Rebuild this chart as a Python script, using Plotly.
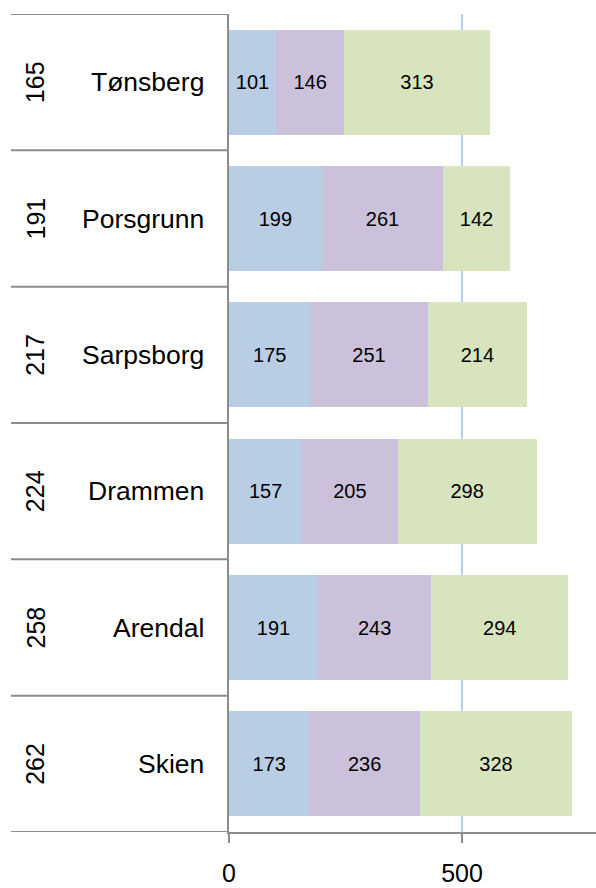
import plotly.graph_objects as go

cities = ["Tønsberg", "Porsgrunn", "Sarpsborg", "Drammen", "Arendal", "Skien"]
codes = ["165", "191", "217", "224", "258", "262"]
seg1 = [101, 199, 175, 157, 191, 173]
seg2 = [146, 261, 251, 205, 243, 236]
seg3 = [313, 142, 214, 298, 294, 328]
colors = ["#b9cde5", "#ccc1da", "#d7e4bd"]
tick_vals = [0, 500]
tick_text = ["0", "500"]

W, H = 596, 888
x0_px = 229
font_family = "Arial, Liberation Sans, sans-serif"
line_col = "#8c8c8c"

ypos = list(range(len(cities)))

fig = go.Figure()
for vals, col in zip([seg1, seg2, seg3], colors):
    fig.add_trace(go.Bar(
        x=vals, y=ypos, orientation="h", width=0.77,
        marker=dict(color=col, line=dict(width=0)),
        text=[str(v) for v in vals], textposition="inside",
        insidetextanchor="middle", constraintext="none",
        textfont=dict(size=20, color="black", family=font_family),
        showlegend=False, hoverinfo="skip",
    ))

shapes = []
lx0 = 11 / W
lx1 = x0_px / W
for k in range(len(cities) + 1):
    shapes.append(dict(type="line", xref="paper", yref="y",
                       x0=lx0, x1=lx1, y0=k - 0.5, y1=k - 0.5,
                       line=dict(color=line_col, width=2)))

annotations = []
for i, (c, n) in enumerate(zip(cities, codes)):
    annotations.append(dict(xref="paper", yref="y", x=206 / W, y=i,
                            text=c, showarrow=False, xanchor="right",
                            font=dict(size=26.5, color="black", family=font_family)))
    annotations.append(dict(xref="paper", yref="y", x=35 / W, y=i,
                            text=n, showarrow=False, textangle=-90,
                            xanchor="center", yanchor="middle",
                            font=dict(size=25, color="black", family=font_family)))

fig.update_layout(
    template="none",
    barmode="stack",
    width=W, height=H,
    margin=dict(l=0, r=0, t=14, b=56, pad=0),
    paper_bgcolor="white", plot_bgcolor="white",
    shapes=shapes, annotations=annotations,
    xaxis=dict(domain=[x0_px / W, 1], range=[0, (W - x0_px) / (233 / 500)],
               automargin=False,
               tickvals=tick_vals, ticktext=tick_text,
               showgrid=True, gridcolor="#b9cde5", gridwidth=2,
               zeroline=False, showline=True, linecolor=line_col, linewidth=2,
               ticks="outside", ticklen=9, tickcolor=line_col, tickwidth=2,
               ticklabelstandoff=9,
               tickfont=dict(size=25, color="black", family=font_family)),
    yaxis=dict(range=[len(cities) - 0.5, -0.5], showticklabels=False,
               automargin=False,
               showgrid=False, zeroline=False, showline=True,
               linecolor=line_col, linewidth=2, ticks=""),
)

fig.write_html("out.html", config={"displayModeBar": False},
               post_script="document.body.style.margin='0';document.body.style.overflow='hidden';")
